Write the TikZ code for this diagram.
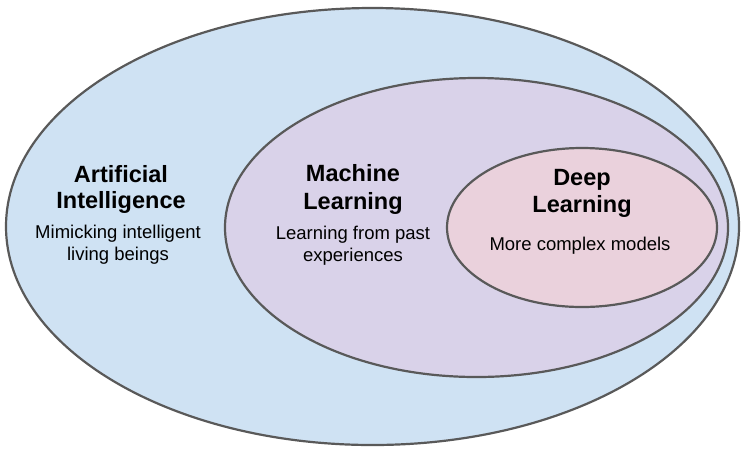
\documentclass[tikz,border=0pt]{standalone}
\usepackage{fontspec}
\setmainfont{Liberation Sans}
\usetikzlibrary{shapes.geometric}
\definecolor{aiblue}{HTML}{CFE2F3}
\definecolor{mlpurple}{HTML}{D9D2E9}
\definecolor{dlpink}{HTML}{EAD1DC}
\definecolor{rimgray}{HTML}{595959}

\begin{document}
\begin{tikzpicture}
	[x=1pt, y=-1pt,
	 field/.style={ellipse, draw=rimgray, line width=2.2pt, inner sep=0pt},
	 title/.style={anchor=base, inner sep=0pt, font=\fontsize{23.5}{28}\selectfont\bfseries},
	 desc/.style={anchor=base, inner sep=0pt, font=\fontsize{18.5}{22}\selectfont}]
	\useasboundingbox (0,0) rectangle (743,451);

	\node[field, fill=aiblue, minimum width=733pt, minimum height=437pt] (ai) at (372.5,226.5) {};
	\node[field, fill=mlpurple, minimum width=503pt, minimum height=299pt] (ml) at (476.5,227.5) {};
	\node[field, fill=dlpink, minimum width=270pt, minimum height=159pt] (dl) at (582,227.5) {};

	\node[title] (ai1) at (121,182) {Artificial};
	\node[title] (ai2) at (121,208) {Intelligence};
	\node[desc] (ai3) at (118,238) {Mimicking intelligent};
	\node[desc] (ai4) at (118,260) {living beings};

	\node[title] (ml1) at (353,181) {Machine};
	\node[title] (ml2) at (353,209) {Learning};
	\node[desc] (ml3) at (353,239) {Learning from past};
	\node[desc] (ml4) at (353,261) {experiences};

	\node[title] (dl1) at (582,185) {Deep};
	\node[title] (dl2) at (582,212) {Learning};
	\node[desc] (dl3) at (580,250) {More complex models};
\end{tikzpicture}
\end{document}
